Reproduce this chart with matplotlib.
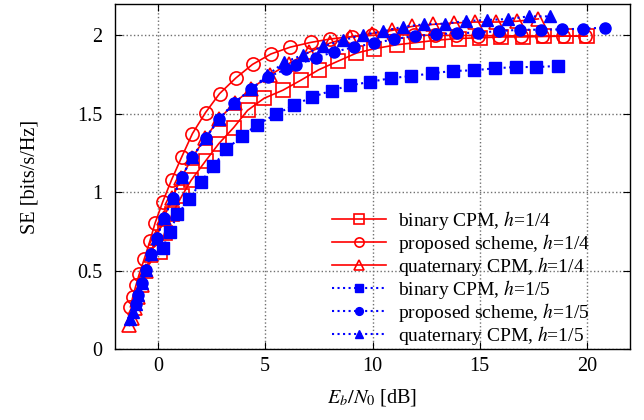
import matplotlib
matplotlib.use('Agg')
import matplotlib.pyplot as plt
import numpy as np

plt.rcParams['font.family'] = ['Liberation Serif', 'DejaVu Serif']
plt.rcParams['mathtext.fontset'] = 'stix'

# binary CPM, h=1/4 (red open squares)
bin4_x = [0.08, 0.31, 0.66, 1.11, 1.55, 2.22, 2.84, 3.53, 4.18, 4.95, 5.82, 6.65, 7.50, 8.37,
          9.25, 10.09, 11.12, 12.09, 13.05, 14.03, 15.02, 16.01, 17.01, 18.00, 19.00, 20.00]
bin4_y = [0.62, 0.74, 0.86, 0.975, 1.076, 1.199, 1.31, 1.412, 1.522, 1.599, 1.65, 1.713, 1.781, 1.834,
          1.887, 1.915, 1.94, 1.955, 1.97, 1.98, 1.985, 1.99, 1.99, 1.993, 1.995, 1.995]

# proposed scheme, h=1/4 (red open circles)
prop4_x = [-1.28, -1.17, -1.02, -0.87, -0.63, -0.37, -0.13, 0.22, 0.64, 1.11, 1.61, 2.22, 2.87,
           3.63, 4.41, 5.26, 6.17, 7.12, 8.04, 9.04, 9.99, 10.94, 11.92, 12.9, 13.9, 14.9,
           15.9, 16.9, 17.9, 18.9, 19.9]
prop4_y = [0.269, 0.333, 0.408, 0.478, 0.577, 0.690, 0.804, 0.937, 1.08, 1.225, 1.374, 1.508, 1.628,
           1.728, 1.815, 1.881, 1.925, 1.955, 1.977, 1.992, 2.0, 2.004, 2.002, 2.0, 2.0, 1.998,
           1.997, 1.997, 1.996, 1.996, 1.995]

# quaternary CPM, h=1/4 (red open triangles)
quat4_x = [-1.33, -1.22, -1.08, -0.93, -0.76, -0.56, -0.34, -0.07, 0.27, 0.66, 1.08, 1.60, 2.20,
           2.85, 3.57, 4.35, 5.20, 6.10, 7.05, 8.00, 8.94, 9.97, 10.92, 11.85, 12.82, 13.80,
           14.77, 15.76, 16.73, 17.73]
quat4_y = [0.15, 0.20, 0.26, 0.33, 0.41, 0.50, 0.60, 0.71, 0.835, 0.96, 1.09, 1.22, 1.345,
           1.465, 1.57, 1.66, 1.745, 1.82, 1.893, 1.95, 1.99, 2.011, 2.032, 2.057, 2.07, 2.079,
           2.085, 2.085, 2.09, 2.105]

# binary CPM, h=1/5 (blue filled squares)
bin5_x = [0.22, 0.54, 0.91, 1.47, 1.99, 2.58, 3.19, 3.94, 4.62, 5.50, 6.33, 7.16, 8.09, 8.97,
          9.89, 10.88, 11.79, 12.76, 13.75, 14.72, 15.70, 16.67, 17.64, 18.66]
bin5_y = [0.641, 0.743, 0.858, 0.957, 1.063, 1.166, 1.274, 1.359, 1.43, 1.497, 1.554, 1.605,
          1.648, 1.682, 1.703, 1.728, 1.74, 1.758, 1.773, 1.777, 1.79, 1.798, 1.798, 1.805]

# proposed scheme, h=1/5 (blue filled circles)
prop5_x = [-1.03, -0.91, -0.75, -0.54, -0.34, -0.05, 0.29, 0.68, 1.10, 1.61, 2.22, 2.84, 3.55,
           4.33, 5.11, 5.96, 6.42, 7.35, 8.21, 9.12, 10.06, 11.0, 11.98, 12.95, 13.92, 14.91,
           15.88, 16.88, 17.84, 18.83, 19.83, 20.82]
prop5_y = [0.285, 0.344, 0.422, 0.503, 0.605, 0.711, 0.836, 0.96, 1.094, 1.225, 1.344, 1.465,
           1.569, 1.655, 1.734, 1.783, 1.809, 1.858, 1.894, 1.925, 1.949, 1.976, 1.996, 2.006,
           2.015, 2.017, 2.027, 2.036, 2.036, 2.038, 2.043, 2.049]

# quaternary CPM, h=1/5 (blue filled triangles)
quat5_x = [-1.30, -1.17, -1.03, -0.91, -0.75, -0.54, -0.34, -0.05, 0.29, 0.68, 1.10, 1.61, 2.22,
           2.84, 3.55, 4.33, 5.09, 5.88, 6.78, 7.67, 8.62, 9.54, 10.48, 11.40, 12.38, 13.38,
           14.34, 15.32, 16.31, 17.27, 18.27]
quat5_y = [0.189, 0.235, 0.285, 0.344, 0.422, 0.503, 0.605, 0.711, 0.836, 0.96, 1.094, 1.225,
           1.344, 1.465, 1.569, 1.655, 1.745, 1.827, 1.877, 1.93, 1.968, 2.004, 2.025, 2.055,
           2.07, 2.075, 2.091, 2.098, 2.104, 2.121, 2.121]

red = '#ff0000'
blue = '#0000ff'
fs = 14.6

fig = plt.figure(figsize=(6.44, 4.2), dpi=100)
ax = fig.add_axes([115/644, 71/420, 515/644, 345/420])

ax.plot(bin4_x, bin4_y, '-', color=red, lw=1.2, marker='s', ms=9.5, mfc='none', mec=red, mew=1.2,
        label=r'binary CPM, $h$=1/4')
ax.plot(prop4_x, prop4_y, '-', color=red, lw=1.2, marker='o', ms=9.5, mfc='none', mec=red, mew=1.2,
        label=r'proposed scheme, $h$=1/4')
ax.plot(quat4_x, quat4_y, '-', color=red, lw=1.2, marker='^', ms=9.5, mfc='none', mec=red, mew=1.2,
        label=r'quaternary CPM, $h$=1/4')
ax.plot(bin5_x, bin5_y, ':', color=blue, lw=1.5, marker='s', ms=8, mfc=blue, mec=blue,
        label=r'binary CPM, $h$=1/5')
ax.plot(prop5_x, prop5_y, ':', color=blue, lw=1.5, marker='o', ms=8, mfc=blue, mec=blue,
        label=r'proposed scheme, $h$=1/5')
ax.plot(quat5_x, quat5_y, ':', color=blue, lw=1.5, marker='^', ms=8, mfc=blue, mec=blue,
        label=r'quaternary CPM, $h$=1/5')

ax.set_xlim(-2, 22)
ax.set_ylim(0, 2.2)
ax.set_xticks([0, 5, 10, 15, 20])
ax.set_yticks([0, 0.5, 1, 1.5, 2])
ax.set_yticklabels(['0', '0.5', '1', '1.5', '2'])
ax.grid(True, linestyle=':', color='#707070', lw=1)
ax.tick_params(direction='in', top=True, right=True, length=5, labelsize=fs)
ax.tick_params(axis='x', pad=6)
ax.tick_params(axis='y', pad=9)
for s in ax.spines.values():
    s.set_linewidth(1.0)

ax.set_xlabel(r'$E_b/N_0$ [dB]', fontsize=fs, labelpad=8)
ax.set_ylabel('SE [bits/s/Hz]', fontsize=fs, labelpad=27)

leg = ax.legend(loc='lower right', frameon=False, fontsize=14, handlelength=2.8,
                handletextpad=0.6, labelspacing=0.0, markerscale=0.7,
                borderaxespad=0.0, bbox_to_anchor=(0.937, -0.017))

fig.savefig('out.png', dpi=100)
